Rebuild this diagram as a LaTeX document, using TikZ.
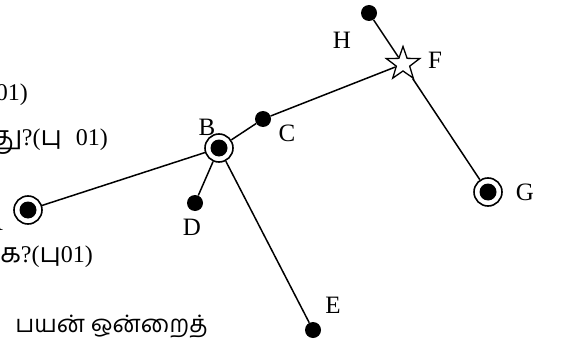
\documentclass[tikz,border=0pt]{standalone}
\usepackage{fontspec}
\setmainfont{Liberation Serif}
\newfontfamily\tafont[Script=Tamil,Scale=1.12]{Hind Madurai}
\newfontfamily\tafontb[Script=Tamil]{Hind Madurai}
\usetikzlibrary{shapes.geometric}
\begin{document}
\begin{tikzpicture}[x=1pt,y=-1pt,
  ring/.style={circle,draw,line width=1.6pt,fill=white,minimum size=28pt,inner sep=0pt},
  blackdot/.style={circle,fill=black,minimum size=16pt,inner sep=0pt},
  starnode/.style={star,star points=5,star point ratio=2.5,draw,fill=white,line width=1.3pt,minimum size=35pt,inner sep=0pt},
  lab/.style={font=\fontsize{25}{25}\selectfont,inner sep=0pt},
  txt/.style={font=\fontsize{24}{24}\selectfont,inner sep=0pt,anchor=base east},
  edge/.style={line width=1.5pt}]
\useasboundingbox (0,0) rectangle (564,342);
\clip (0,0) rectangle (564,342);
% texts on the left
\node[txt] (t1) at (28,100) {01)};
\node[txt] (t2) at (108,145) {{\tafont து}?({\tafont பு}\hspace{8pt} 01)};
\node[txt] (t3) at (93,262) {{\tafont க}?({\tafont பு}01)};
\node[txt] (t4) at (208,332) {\tafontb பயன் ஒன்றைத்};
% nodes
\node[ring] (A) at (28,210) {};
\node[ring] (B) at (219,148) {};
\node[blackdot] (C) at (263,119) {};
\node[blackdot] (D) at (195,203) {};
\node[blackdot] (E) at (313,330) {};
\node[ring] (G) at (488,192) {};
\node[blackdot] (H) at (369,13) {};
\fill (A.center) circle[radius=8.5pt];
\fill (B.center) circle[radius=8.5pt];
\fill (G.center) circle[radius=8.5pt];
% edges
\draw[edge] (A) -- (B);
\draw[edge] (B) -- (C);
\draw[edge] (B) -- (D);
\draw[edge] (B) -- (E);
\node[starnode] (F) at (403,64) {};
\draw[edge] (C) -- (F);
\draw[edge] (H) -- (F);
\draw[edge] (F) -- (G);
% labels
\node[lab] (lA) at (-6,222) {A};
\node[lab] (lB) at (207,127) {B};
\node[lab] (lC) at (287,133) {C};
\node[lab] (lD) at (192,227) {D};
\node[lab] (lE) at (333,305) {E};
\node[lab] (lF) at (435,60) {F};
\node[lab] (lG) at (525,192) {G};
\node[lab] (lH) at (342,40) {H};
\end{tikzpicture}
\end{document}
